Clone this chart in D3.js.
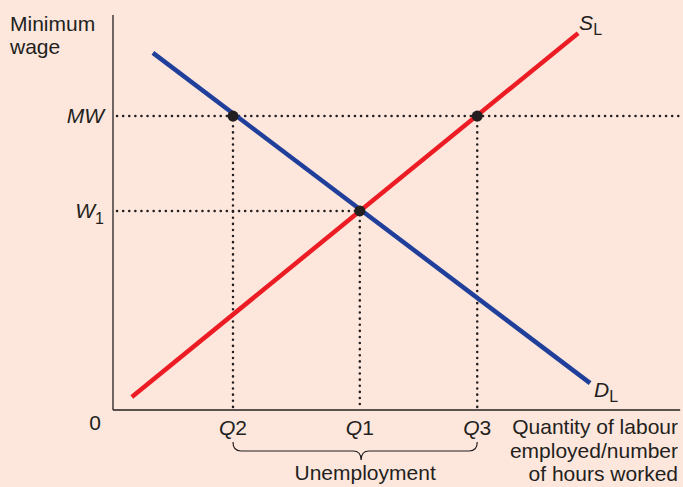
<!DOCTYPE html>
<html>
<head>
<meta charset="utf-8">
<script src="https://cdn.jsdelivr.net/npm/d3@7"></script>
<style>
  body { margin: 0; background: #fde6dc; }
  svg text { font-family: "Liberation Sans", Arial, sans-serif; fill: #231f20; }
</style>
</head>
<body>
<svg id="chart" width="683" height="487"></svg>
<script>
// values, in chart units (0-100 on both axes)
const demandLine = [{ q: 7.0, w: 90.4 }, { q: 83.7, w: 6.8 }];
const supplyLine = [{ q: 3.3, w: 3.3 }, { q: 81.6, w: 95.4 }];
const wageLevels = [
  { label: "MW", w: 74.4, qEnd: 99.5 },
  { label: "W", sub: "1", w: 50.4, qEnd: 43.3 }
];
const quantityTicks = [
  { label: "Q2", q: 21.05, w: 74.4 },
  { label: "Q1", q: 43.3, w: 50.4 },
  { label: "Q3", q: 63.9, w: 74.4 }
];
const xTitle = ["Quantity of labour", "employed/number", "of hours worked"];
const yTitle = ["Minimum", "wage"];

const config = {
  width: 683,
  height: 487,
  fontSize: 21,
  subSize: 16,
  margin: { top: 15, right: 0, bottom: 77, left: 113 }
};

const svg = d3.select('#chart');

const x = d3.scaleLinear()
  .domain([0, 100])
  .range([config.margin.left, config.width - config.margin.right]);
const y = d3.scaleLinear()
  .domain([0, 100])
  .range([config.height - config.margin.bottom, config.margin.top]);

const ink = '#231f20';
const fs = config.fontSize + 'px';
const ss = config.subSize + 'px';

// dotted guide lines
const dotted = svg.append('g').attr('class', 'guides')
  .attr('stroke', ink)
  .attr('stroke-width', 2.5)
  .attr('stroke-linecap', 'round')
  .attr('stroke-dasharray', '0.1,6');

dotted.selectAll('.h-guide')
  .data(wageLevels)
  .join('line')
    .attr('class', 'h-guide')
    .attr('x1', x(0) + 4)
    .attr('x2', d => x(d.qEnd))
    .attr('y1', d => y(d.w))
    .attr('y2', d => y(d.w));

dotted.selectAll('.v-guide')
  .data(quantityTicks)
  .join('line')
    .attr('class', 'v-guide')
    .attr('x1', d => x(d.q))
    .attr('x2', d => x(d.q))
    .attr('y1', d => y(d.w) + 4)
    .attr('y2', y(0) - 2);

// axes (no ticks, plain lines)
svg.append('line')
  .attr('x1', x(0)).attr('x2', x(0))
  .attr('y1', y(0)).attr('y2', y(100))
  .attr('stroke', ink).attr('stroke-width', 1.3);
svg.append('line')
  .attr('x1', x(0)).attr('x2', x(99.5))
  .attr('y1', y(0)).attr('y2', y(0))
  .attr('stroke', ink).attr('stroke-width', 1.3);

// demand and supply
const line = d3.line().x(d => x(d.q)).y(d => y(d.w));

svg.append('path')
  .datum(demandLine)
  .attr('d', line)
  .attr('fill', 'none')
  .attr('stroke', '#1f3f9a')
  .attr('stroke-width', 4.5);

svg.append('path')
  .datum(supplyLine)
  .attr('d', line)
  .attr('fill', 'none')
  .attr('stroke', '#ec1c24')
  .attr('stroke-width', 4.5);

// points
svg.selectAll('.pt')
  .data(quantityTicks)
  .join('circle')
    .attr('class', 'pt')
    .attr('cx', d => x(d.q))
    .attr('cy', d => y(d.w))
    .attr('r', 5.5)
    .attr('fill', ink);

// wage labels
const wl = svg.selectAll('.wage-label')
  .data(wageLevels)
  .join('text')
    .attr('class', 'wage-label')
    .attr('x', x(0) - 9)
    .attr('y', d => y(d.w) + 7)
    .attr('text-anchor', 'end')
    .style('font-size', fs);
wl.append('tspan').style('font-style', 'italic').text(d => d.label);
wl.filter(d => d.sub).append('tspan')
  .attr('dy', 6)
  .style('font-size', ss)
  .text(d => d.sub);

// quantity labels
svg.selectAll('.q-label')
  .data(quantityTicks)
  .join('text')
    .attr('class', 'q-label')
    .attr('x', d => x(d.q))
    .attr('y', y(0) + 25)
    .attr('text-anchor', 'middle')
    .style('font-size', fs)
    .style('font-style', 'italic')
    .text(d => d.label.slice(0, 1))
    .append('tspan')
      .style('font-style', 'normal')
      .text(d => d.label.slice(1));

svg.append('text')
  .attr('x', x(0) - 18)
  .attr('y', y(0) + 20)
  .attr('text-anchor', 'middle')
  .style('font-size', fs)
  .text('0');

// unemployment brace, tip sits a bit right of centre in the original
const bx0 = x(quantityTicks[0].q), bx1 = x(quantityTicks[2].q);
const btip = (bx0 + bx1) / 2 + 6, by = y(0) + 32, bh = 9, br = 8;
svg.append('path')
  .attr('d', `M${bx0},${by} q0,${bh} ${br},${bh} L${btip - br},${by + bh} q${br},0 ${br},${bh}
              q0,${-bh} ${br},${-bh} L${bx1 - br},${by + bh} q${br},0 ${br},${-bh}`)
  .attr('fill', 'none')
  .attr('stroke', ink)
  .attr('stroke-width', 1.2);

svg.append('text')
  .attr('x', btip + 4)
  .attr('y', y(0) + 70)
  .attr('text-anchor', 'middle')
  .style('font-size', fs)
  .text('Unemployment');

// axis titles
svg.selectAll('.x-title')
  .data(xTitle)
  .join('text')
    .attr('class', 'x-title')
    .attr('x', 678)
    .attr('y', (d, i) => y(0) + 24 + i * 23.5)
    .attr('text-anchor', 'end')
    .style('font-size', fs)
    .text(d => d);

svg.selectAll('.y-title')
  .data(yTitle)
  .join('text')
    .attr('class', 'y-title')
    .attr('x', 10)
    .attr('y', (d, i) => 31 + i * 23)
    .style('font-size', fs)
    .text(d => d);

// curve labels
const sl = svg.append('text')
  .attr('x', x(supplyLine[1].q) + 1)
  .attr('y', y(supplyLine[1].w) - 3)
  .style('font-size', fs);
sl.append('tspan').style('font-style', 'italic').text('S');
sl.append('tspan').attr('dy', 5).style('font-size', ss).text('L');

const dl = svg.append('text')
  .attr('x', x(demandLine[1].q) + 4)
  .attr('y', y(demandLine[1].w) + 14)
  .style('font-size', fs);
dl.append('tspan').style('font-style', 'italic').text('D');
dl.append('tspan').attr('dy', 5).style('font-size', ss).text('L');
</script>
</body>
</html>
